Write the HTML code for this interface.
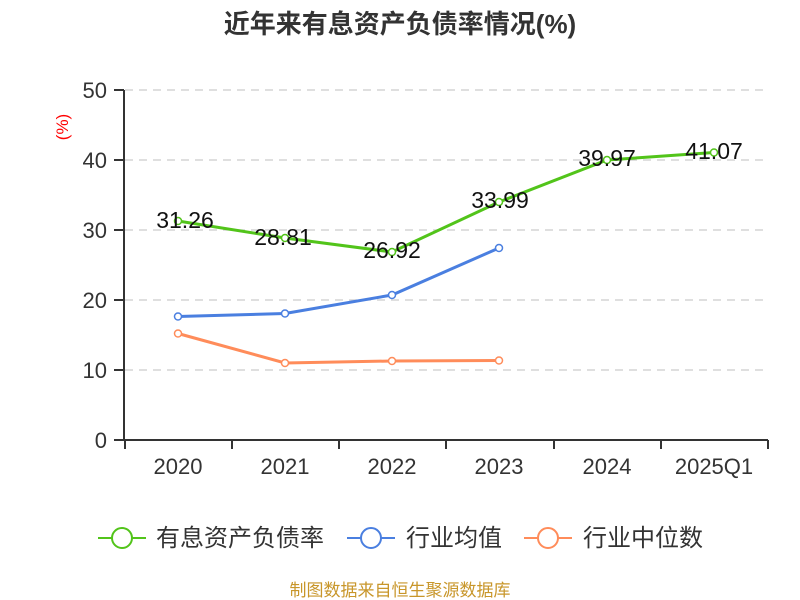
<!DOCTYPE html>
<html><head><meta charset="utf-8"><style>body{margin:0;background:#fff}svg{display:block}</style></head><body>
<svg width="800" height="600" xmlns="http://www.w3.org/2000/svg" font-family="Liberation Sans, Noto Sans CJK SC, sans-serif">
<rect width="800" height="600" fill="#fff"/>
<text x="400" y="33" text-anchor="middle" font-size="26" font-weight="bold" fill="#333">近年来有息资产负债率情况(%)</text>
<g stroke="#ccc" stroke-dasharray="8,6" stroke-width="1.3">
<line x1="125" y1="90" x2="768" y2="90"/><line x1="125" y1="160" x2="768" y2="160"/><line x1="125" y1="230" x2="768" y2="230"/><line x1="125" y1="300" x2="768" y2="300"/><line x1="125" y1="370" x2="768" y2="370"/>
</g>
<g stroke="#333" stroke-width="2">
<line x1="124" y1="90" x2="124" y2="441"/><line x1="124" y1="440" x2="768" y2="440"/>
<line x1="114" y1="90" x2="124" y2="90"/><line x1="114" y1="160" x2="124" y2="160"/><line x1="114" y1="230" x2="124" y2="230"/><line x1="114" y1="300" x2="124" y2="300"/><line x1="114" y1="370" x2="124" y2="370"/><line x1="114" y1="440" x2="124" y2="440"/>
<line x1="125" y1="440" x2="125" y2="449"/><line x1="232" y1="440" x2="232" y2="449"/><line x1="339" y1="440" x2="339" y2="449"/><line x1="446" y1="440" x2="446" y2="449"/><line x1="554" y1="440" x2="554" y2="449"/><line x1="661" y1="440" x2="661" y2="449"/><line x1="768" y1="440" x2="768" y2="449"/>
</g>
<g font-size="22" fill="#333" text-anchor="end">
<text x="107" y="98">50</text><text x="107" y="168">40</text><text x="107" y="238">30</text><text x="107" y="308">20</text><text x="107" y="378">10</text><text x="107" y="448">0</text>
</g>
<text transform="translate(68,127) rotate(-90)" text-anchor="middle" font-size="17" fill="#f00">(%)</text>
<g font-size="22" fill="#333" text-anchor="middle">
<text x="178" y="474">2020</text><text x="285" y="474">2021</text><text x="392" y="474">2022</text><text x="499" y="474">2023</text><text x="607" y="474">2024</text><text x="714" y="474">2025Q1</text>
</g>
<g fill="none" stroke-width="3">
<polyline stroke="#52c41a" points="178,221 285,238 392,252 499,202 607,160 714,152.5"/>
<polyline stroke="#4a7fe0" points="178,316.5 285,313.5 392,295 499,248"/>
<polyline stroke="#ff8c5a" points="178,333.5 285,363 392,361 499,360.5"/>
</g>
<g fill="#fff" stroke-width="1.5">
<g stroke="#52c41a"><circle cx="178" cy="221" r="3.5"/><circle cx="285" cy="238" r="3.5"/><circle cx="392" cy="252" r="3.5"/><circle cx="499" cy="202" r="3.5"/><circle cx="607" cy="160" r="3.5"/><circle cx="714" cy="152.5" r="3.5"/></g>
<g stroke="#4a7fe0"><circle cx="178" cy="316.5" r="3.5"/><circle cx="285" cy="313.5" r="3.5"/><circle cx="392" cy="295" r="3.5"/><circle cx="499" cy="248" r="3.5"/></g>
<g stroke="#ff8c5a"><circle cx="178" cy="333.5" r="3.5"/><circle cx="285" cy="363" r="3.5"/><circle cx="392" cy="361" r="3.5"/><circle cx="499" cy="360.5" r="3.5"/></g>
</g>
<g font-size="23" fill="#111" text-anchor="middle">
<text x="185" y="228">31.26</text><text x="283" y="245">28.81</text><text x="392" y="258">26.92</text><text x="500" y="208">33.99</text><text x="607" y="166">39.97</text><text x="714" y="159">41.07</text>
</g>
<g stroke-width="2" fill="#fff">
<line x1="98" y1="538" x2="146" y2="538" stroke="#52c41a"/><circle cx="122" cy="538" r="10" stroke="#52c41a"/>
<line x1="347" y1="538" x2="395" y2="538" stroke="#4a7fe0"/><circle cx="371" cy="538" r="10" stroke="#4a7fe0"/>
<line x1="524" y1="538" x2="572" y2="538" stroke="#ff8c5a"/><circle cx="548" cy="538" r="10" stroke="#ff8c5a"/>
</g>
<g font-size="24" fill="#333">
<text x="156" y="546">有息资产负债率</text><text x="406" y="546">行业均值</text><text x="583" y="546">行业中位数</text>
</g>
<text x="400" y="596" text-anchor="middle" font-size="17" fill="#c8962a">制图数据来自恒生聚源数据库</text>
</svg>
</body></html>
